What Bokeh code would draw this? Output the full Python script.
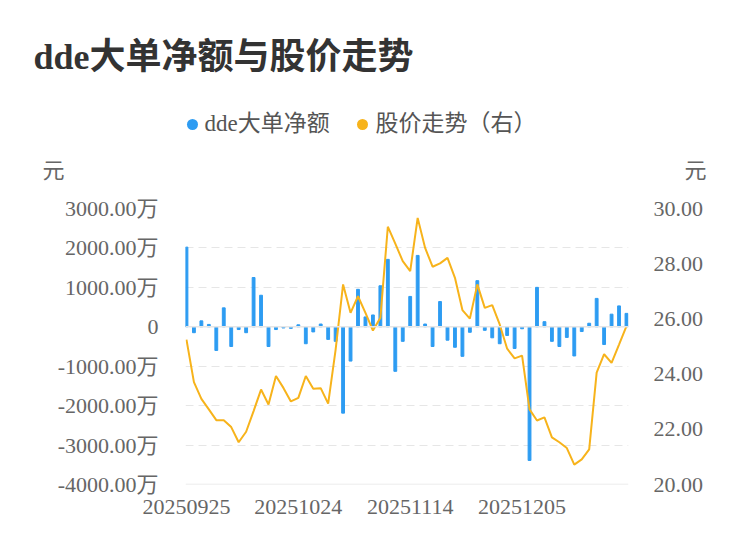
from bokeh.plotting import figure
from bokeh.layouts import column
from bokeh.models import (ColumnDataSource, Range1d, LinearAxis, FixedTicker,
                          Span, Label)
from bokeh.embed import file_html
from bokeh.resources import INLINE

dates = ["20250925","20250926","20250929","20250930","20251009","20251010","20251013",
         "20251014","20251015","20251016","20251017","20251020","20251021","20251022",
         "20251023","20251024","20251027","20251028","20251029","20251030","20251031",
         "20251103","20251104","20251105","20251106","20251107","20251110","20251111",
         "20251112","20251113","20251114","20251117","20251118","20251119","20251120",
         "20251121","20251124","20251125","20251126","20251127","20251128","20251201",
         "20251202","20251203","20251204","20251205","20251208","20251209","20251210",
         "20251211","20251212","20251215","20251216","20251217","20251218","20251219",
         "20251222","20251223","20251224","20251225"]

dde_net = [2020, -150, 150, 60, -600, 480, -500, -70, -150, 1250,
           800, -500, -70, -30, -40, 50, -430, -130, 70, -320,
           -370, -2190, -870, 950, 250, 300, 1040, 1710, -1130, -370,
           770, 1810, 70, -500, 640, -340, -520, -750, -140, 1170,
           -90, -280, -430, -220, -550, -50, -3390, 1000, 130, -370,
           -500, -270, -740, -120, 90, 720, -450, 320, 530, 340]

price = [25.25, 23.71, 23.10, 22.72, 22.33, 22.33, 22.08, 21.53, 21.91, 22.66,
         23.44, 22.90, 23.93, 23.50, 23.01, 23.14, 23.93, 23.47, 23.49, 22.93,
         24.89, 27.25, 26.22, 26.82, 26.22, 25.58, 26.04, 29.34, 28.73, 28.09,
         27.73, 29.66, 28.57, 27.89, 28.01, 28.21, 27.49, 26.32, 26.01, 27.25,
         26.40, 26.50, 25.80, 24.92, 24.57, 24.67, 22.72, 22.32, 22.43, 21.71,
         21.53, 21.32, 20.72, 20.91, 21.27, 24.05, 24.72, 24.41, 25.07, 25.74]

left_ticks = [-4000, -3000, -2000, -1000, 0, 1000, 2000, 3000]
right_ticks = [20, 22, 24, 26, 28, 30]
x_tick_idx = [0, 15, 30, 45]

title_text = "dde大单净额与股价走势"
legend_names = ["dde大单净额", "股价走势（右）"]
unit_text = "元"

BLUE = "#2d9cf2"
ORANGE = "#f7b31b"
FONT = "'Liberation Serif', 'Noto Sans CJK SC'"
TICK_COLOR = "#666666"

W = 742
TOP_H = 190
FL, FR, FT, FB = 185, 628, 208, 484
H_MAIN = 550 - TOP_H

# ---------------- header figure (title, legend, unit labels) ----------------
hdr = figure(width=W, height=TOP_H, output_backend="svg", toolbar_location=None,
             x_range=Range1d(0, W), y_range=Range1d(TOP_H, 0),
             min_border=0, min_border_left=0, min_border_right=0,
             min_border_top=0, min_border_bottom=0)
hdr.frame_align = False
hdr.axis.visible = False
hdr.grid.visible = False
hdr.outline_line_color = None
hdr.background_fill_color = "white"
hdr.border_fill_color = "white"

def hlab(text, x, y, size, color, style="normal", align="left"):
    hdr.add_layout(Label(x=x, y=y, text=text, text_font=FONT, text_font_size=size,
                         text_color=color, text_font_style=style,
                         text_align=align, text_baseline="middle"))

hlab(title_text, 33, 56, "36px", "#333333", style="bold")
hdr.scatter(x=[192, 362], y=[124, 124], size=11, marker="circle",
            color=[BLUE, ORANGE], line_color=None)
hlab(legend_names[0], 204, 123, "23px", "#555555")
hlab(legend_names[1], 375, 123, "23px", "#555555")
hlab(unit_text, 42, 170, "22px", TICK_COLOR)
hlab(unit_text, 684, 170, "22px", TICK_COLOR)

# ---------------- main chart ----------------
idx = list(range(len(dates)))
src = ColumnDataSource(dict(x=idx, dde=dde_net, price=price, date=dates))

p = figure(width=W, height=H_MAIN, output_backend="svg", toolbar_location=None,
           x_range=Range1d(-0.13, len(dates) - 1 + 0.27),
           y_range=Range1d(-4000, 3000),
           min_border_left=FL, min_border_right=W - FR,
           min_border_top=FT - TOP_H, min_border_bottom=550 - FB)
p.frame_align = False
p.outline_line_color = None
p.background_fill_color = "white"
p.border_fill_color = "white"

p.extra_y_ranges = {"price": Range1d(20, 30)}

p.xgrid.visible = False
p.ygrid.ticker = FixedTicker(ticks=left_ticks)
p.ygrid.grid_line_color = "#e6e6e6"
p.ygrid.grid_line_dash = "8 5"
p.ygrid.grid_line_width = 1

for v in (0, -4000):
    p.add_layout(Span(location=v, dimension="width", line_color="#e6e6e6",
                      line_width=1.5))

p.vbar(x="x", top="dde", bottom=0, width=0.38, color=BLUE, source=src)
p.line(x="x", y="price", y_range_name="price", line_color=ORANGE,
       line_width=2, source=src)

ya = p.yaxis[0]
ya.ticker = FixedTicker(ticks=left_ticks)
ya.major_label_overrides = {t: ("0" if t == 0 else f"{t}.00万") for t in left_ticks}
ya.axis_line_color = None
ya.major_tick_line_color = None
ya.minor_tick_line_color = None
ya.major_label_standoff = 21
ya.major_label_text_font = FONT
ya.major_label_text_font_size = "22px"
ya.major_label_text_color = TICK_COLOR

ra = LinearAxis(y_range_name="price", ticker=FixedTicker(ticks=right_ticks))
ra.major_label_overrides = {t: f"{t:.2f}" for t in right_ticks}
ra.axis_line_color = None
ra.major_tick_line_color = None
ra.minor_tick_line_color = None
ra.major_label_standoff = 19
ra.major_label_text_font = FONT
ra.major_label_text_font_size = "22px"
ra.major_label_text_color = TICK_COLOR
p.add_layout(ra, "right")

xa = p.xaxis[0]
xa.ticker = FixedTicker(ticks=x_tick_idx)
xa.major_label_overrides = {i: dates[i] for i in x_tick_idx}
xa.axis_line_color = None
xa.major_tick_line_color = None
xa.minor_tick_line_color = None
xa.major_label_standoff = 9
xa.major_label_text_font = FONT
xa.major_label_text_font_size = "22px"
xa.major_label_text_color = TICK_COLOR

layout = column(hdr, p, spacing=0)
open("out.html", "w").write(file_html(layout, INLINE))
